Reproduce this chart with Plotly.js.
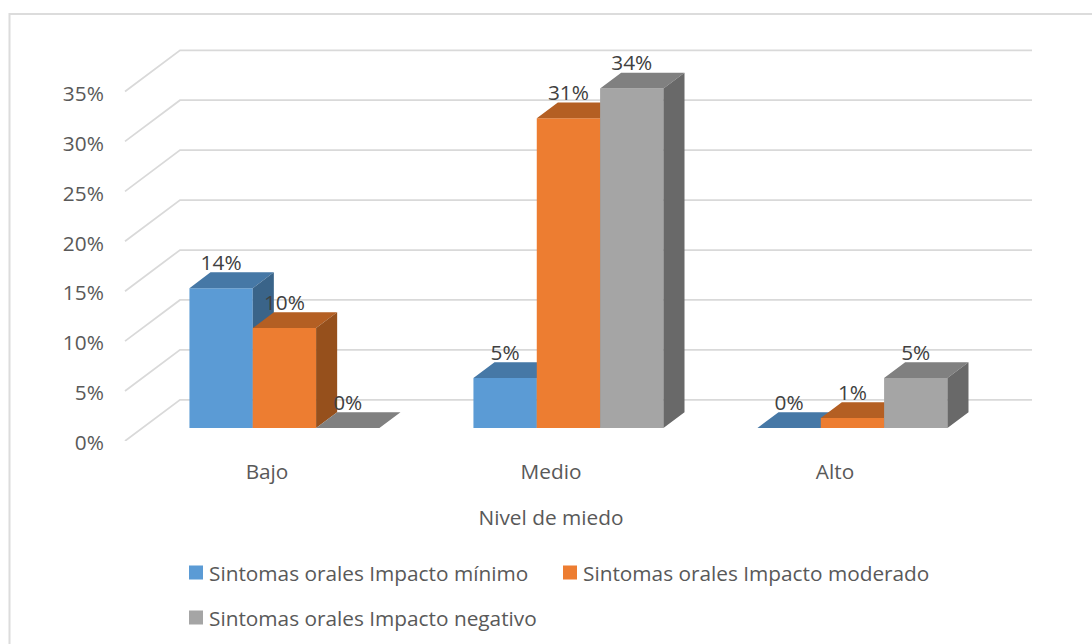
<!DOCTYPE html>
<html><head><meta charset="utf-8">
<script src="https://cdn.plot.ly/plotly-3.0.1.min.js"></script>
<style>html,body{margin:0;padding:0;background:#fff}</style>
</head><body><div id="chart" style="width:1092px;height:644px"></div>
<script>
const categories = ['Bajo','Medio','Alto'];
const seriesNames = ['Sintomas orales Impacto mínimo','Sintomas orales Impacto moderado','Sintomas orales Impacto negativo'];
const minimo = [14,5,0];
const moderado = [10,31,1];
const negativo = [0,34,5];
const tickValues = [0,5,10,15,20,25,30,35];
const frontColors = ['#5b9bd5','#ed7d31','#a5a5a5'];
const topColors = ['#4678a6','#b45f23','#808080'];
const sideColors = ['#3a6489','#96501c','#696969'];
const legendIds = ['legend','legend2','legend3'];

const allValues = [minimo,moderado,negativo];
const DX = 55/284, DY = 41.2/9.986;       // full floor depth in axis units
const FRONT = 0.317, BACK = 0.70;         // bar depth within the floor
const BAR = 63.33/284;                    // bar width in axis units
const LEFT = -0.5, RIGHT = 2.5;
const overlayOf = s => String(s+2);       // each series has its own overlay, painted in order

const traces = [];
// walls: gridlines run along the side wall, then the back wall
const gx=[], gy=[];
tickValues.forEach(v=>{ gx.push(LEFT,LEFT+DX,RIGHT+DX,null); gy.push(v,v+DY,v+DY,null); });
traces.push({type:'scatter',mode:'lines',x:gx,y:gy,line:{color:'#d9d9d9',width:1.75},
  hoverinfo:'skip',showlegend:false});

allValues.forEach((vals,s)=>{
  const xa='x'+overlayOf(s), ya='y'+overlayOf(s);
  const cx=vals.map((_,i)=>i+FRONT*DX+(s-1)*BAR);
  const tx=[],ty=[],sx=[],sy=[];
  const f=FRONT, b=BACK;
  vals.forEach((v,i)=>{
    const l=cx[i]-BAR/2, r=cx[i]+BAR/2;
    tx.push(l, r, r+(b-f)*DX, l+(b-f)*DX, l, null);
    ty.push(v+f*DY, v+f*DY, v+b*DY, v+b*DY, v+f*DY, null);
    if(v>0){
      sx.push(r, r+(b-f)*DX, r+(b-f)*DX, r, r, null);
      sy.push(f*DY, b*DY, v+b*DY, v+f*DY, f*DY, null);
    }
  });
  traces.push({type:'bar',name:seriesNames[s],x:cx,y:vals,base:vals.map(()=>FRONT*DY),width:BAR,
    marker:{color:frontColors[s],line:{width:0}},xaxis:xa,yaxis:ya,
    legend:legendIds[s],showlegend:true,hovertemplate:'%{y}%<extra>'+seriesNames[s]+'</extra>'});
  traces.push({type:'scatter',mode:'lines',x:tx,y:ty,fill:'toself',fillcolor:topColors[s],
    line:{width:0},xaxis:xa,yaxis:ya,hoverinfo:'skip',showlegend:false});
  if(sx.length) traces.push({type:'scatter',mode:'lines',x:sx,y:sy,fill:'toself',fillcolor:sideColors[s],
    line:{width:0},xaxis:xa,yaxis:ya,hoverinfo:'skip',showlegend:false});
});
// data labels sit on the top overlay so they stay above every bar
allValues.forEach((vals,s)=>{
  traces.push({type:'scatter',mode:'text',
    x:vals.map((_,i)=>i+FRONT*DX+(s-1)*BAR),
    y:vals.map(v=>v+FRONT*DY+2.35),
    text:vals.map(v=>v+'%'),textposition:'middle center',
    textfont:{family:'"Open Sans"',size:20.8,color:'#404040'},
    xaxis:'x4',yaxis:'y4',cliponaxis:false,hoverinfo:'skip',showlegend:false});
});

// plot area is centred on the front wall so the axis title lands under it
const L=70,W=962,T=49,H=392,WALL=125,UNIT=284;
const px=x=>(x-L)/W, py=y=>(T+H-y)/H;
const xr=[LEFT-(WALL-L)/UNIT,LEFT+(L+W-WALL)/UNIT], yr=[0,H/9.986];
const font={family:'"Open Sans"',size:20.8,color:'#595959'};
const legendBase={orientation:'h',xanchor:'left',yanchor:'middle',bgcolor:'rgba(0,0,0,0)',font:font,
  itemclick:false,itemdoubleclick:false};
const hidden={visible:false,showgrid:false,zeroline:false};
const layout={
  width:1092,height:644,paper_bgcolor:'#fff',plot_bgcolor:'rgba(0,0,0,0)',font:font,
  margin:{l:L,r:1092-L-W,t:T,b:644-T-H,autoexpand:false},
  barmode:'overlay',
  xaxis:{range:xr,tickmode:'array',tickvals:[0,1,2],ticktext:categories,ticks:'outside',ticklen:12,
    tickcolor:'rgba(0,0,0,0)',showgrid:false,zeroline:false,showline:false,
    title:{text:'Nivel de miedo',standoff:26,font:font}},
  yaxis:{range:yr,anchor:'free',position:px(WALL),tickmode:'array',tickvals:tickValues,ticktext:tickValues.map(v=>v+'%'),
    ticks:'outside',ticklen:17,ticklabelshift:2,tickcolor:'rgba(0,0,0,0)',showgrid:false,zeroline:false,showline:false},
  xaxis2:Object.assign({overlaying:'x',range:xr},hidden),
  yaxis2:Object.assign({overlaying:'y',range:yr},hidden),
  xaxis3:Object.assign({overlaying:'x',range:xr},hidden),
  yaxis3:Object.assign({overlaying:'y',range:yr},hidden),
  xaxis4:Object.assign({overlaying:'x',range:xr},hidden),
  yaxis4:Object.assign({overlaying:'y',range:yr},hidden),
  legend:Object.assign({x:px(169),y:py(573)},legendBase),
  legend2:Object.assign({x:px(543),y:py(573)},legendBase),
  legend3:Object.assign({x:px(169),y:py(618)},legendBase),
  shapes:[{type:'rect',xref:'paper',yref:'paper',x0:px(9.5),x1:px(1110),y0:py(660),y1:py(14),
    line:{color:'#dcdcdc',width:2},fillcolor:'rgba(0,0,0,0)',layer:'below'}]
};
Plotly.newPlot('chart',traces,layout,{displayModeBar:false,staticPlot:true}).then(gd=>{
  // legend keys: 14px squares set closer to their text, as in the reference
  gd.querySelectorAll('.legendsymbols').forEach(g=>g.setAttribute('transform','translate(7,0)'));
  gd.querySelectorAll('.legendsymbols path').forEach(p=>p.setAttribute('d','M7,7H-7V-7H7Z'));
});
</script></body></html>
